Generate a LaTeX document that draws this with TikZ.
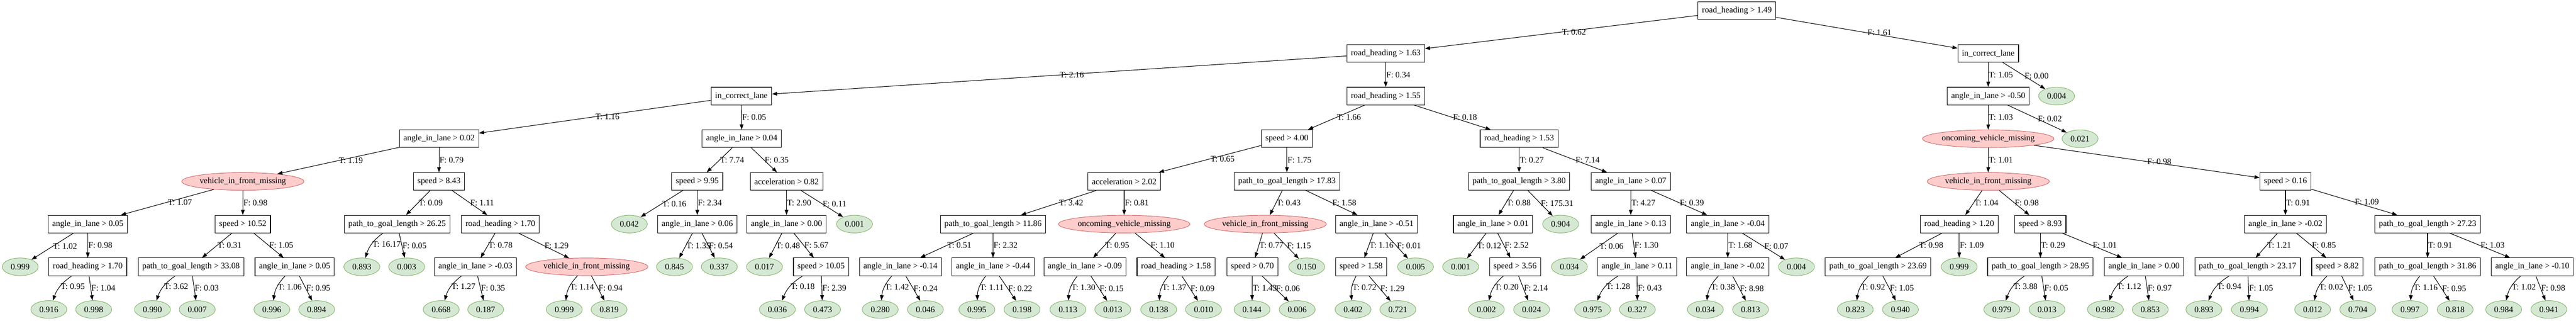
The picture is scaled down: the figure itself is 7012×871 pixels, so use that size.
\documentclass[tikz,border=0pt]{standalone}
\usepackage{fontspec}
\setmainfont{Liberation Serif}
\usetikzlibrary{arrows.meta,shapes.geometric}
\definecolor{catfill}{HTML}{FFCCCC}
\definecolor{catdraw}{HTML}{CC6666}
\definecolor{leaffill}{HTML}{D5E8D4}
\definecolor{leafdraw}{HTML}{82B366}
\tikzset{
    %Define standard arrow tip
    >={Triangle[length=14pt,width=10pt]},
    %Define style for split boxes
    split/.style={
           rectangle,
           draw=black, line width=1.5pt,
           fill=white,
           inner xsep=11pt,
           minimum height=48pt,
           text centered},
    catnode/.style={
           ellipse,
           draw=catdraw, line width=1.3pt,
           fill=catfill,
           inner xsep=0pt, inner ysep=0pt,
           minimum height=48pt,
           text centered},
    leaf/.style={
           ellipse,
           draw=leafdraw, line width=1.3pt,
           fill=leaffill,
           inner sep=0pt,
           minimum width=98pt,
           minimum height=48pt,
           text centered},
    % Define edge label style
    lab/.style={
           anchor=west,
           inner sep=1pt},
    curvy/.style={bend right=18}
}
\begin{document}
\begin{tikzpicture}[->,x=1pt,y=1pt,line width=1.5pt,font=\fontsize{23}{27}\selectfont]
\useasboundingbox (0,0) rectangle (7012,-871);
 %level 0 and 1
\node[split] (root) at (4728,-29) {road\_heading > 1.49};
\node[split] (rh163) at (3772,-145) {road\_heading > 1.63};
\node[split] (icl1) at (5412,-145) {in\_correct\_lane};
 %level 2
\node[split] (icl2) at (2018,-261) {in\_correct\_lane};
\node[split] (rh155) at (3772,-261) {road\_heading > 1.55};
\node[split] (ailm050) at (5412,-261) {angle\_in\_lane > -0.50};
\node[leaf] (l0004a) at (5598,-261) {0.004};
 %level 3
\node[split] (ail002) at (1195,-377) {angle\_in\_lane > 0.02};
\node[split] (ail004) at (2019,-377) {angle\_in\_lane > 0.04};
\node[split] (sp400) at (3503,-377) {speed > 4.00};
\node[split] (rh153) at (4135,-377) {road\_heading > 1.53};
\node[catnode] (ovm1) at (5412,-377) {oncoming\_vehicle\_missing};
\node[leaf] (l0021) at (5662,-377) {0.021};
 %level 4
\node[catnode] (vifm1) at (661,-493) {vehicle\_in\_front\_missing};
\node[split] (sp843) at (1195,-493) {speed > 8.43};
\node[split] (sp995) at (1898,-493) {speed > 9.95};
\node[split] (acc082) at (2141,-493) {acceleration > 0.82};
\node[split] (acc202) at (3060,-493) {acceleration > 2.02};
\node[split] (ptg1783) at (3503,-493) {path\_to\_goal\_length > 17.83};
\node[split] (ptg380) at (4135,-493) {path\_to\_goal\_length > 3.80};
\node[split] (ail007) at (4439,-493) {angle\_in\_lane > 0.07};
\node[catnode] (vifm4) at (5412,-493) {vehicle\_in\_front\_missing};
\node[split] (sp016) at (6221,-493) {speed > 0.16};
 %level 5
\node[split] (ail005a) at (239,-609) {angle\_in\_lane > 0.05};
\node[split] (sp1052) at (661,-609) {speed > 10.52};
\node[split] (ptg2625) at (1081,-609) {path\_to\_goal\_length > 26.25};
\node[split] (rh170a) at (1362,-609) {road\_heading > 1.70};
\node[leaf] (l0042) at (1713,-609) {0.042};
\node[split] (ail006) at (1898,-609) {angle\_in\_lane > 0.06};
\node[split] (ail000a) at (2141,-609) {angle\_in\_lane > 0.00};
\node[leaf] (l0001a) at (2326,-609) {0.001};
\node[split] (ptg1186) at (2703,-609) {path\_to\_goal\_length > 11.86};
\node[catnode] (ovm2) at (3060,-609) {oncoming\_vehicle\_missing};
\node[catnode] (vifm3) at (3444,-609) {vehicle\_in\_front\_missing};
\node[split] (ailm051) at (3747,-609) {angle\_in\_lane > -0.51};
\node[split] (ail001) at (4064,-609) {angle\_in\_lane > 0.01};
\node[leaf] (l0904) at (4248,-609) {0.904};
\node[split] (ail013) at (4439,-609) {angle\_in\_lane > 0.13};
\node[split] (ailm004) at (4703,-609) {angle\_in\_lane > -0.04};
\node[split] (rh120) at (5333,-609) {road\_heading > 1.20};
\node[split] (sp893) at (5554,-609) {speed > 8.93};
\node[split] (ailm002a) at (6221,-609) {angle\_in\_lane > -0.02};
\node[split] (ptg2723) at (6608,-609) {path\_to\_goal\_length > 27.23};
 %level 6
\node[leaf] (l0999a) at (55,-725) {0.999};
\node[split] (rh170b) at (239,-725) {road\_heading > 1.70};
\node[split] (ptg3308) at (520,-725) {path\_to\_goal\_length > 33.08};
\node[split] (ail005b) at (802,-725) {angle\_in\_lane > 0.05};
\node[leaf] (l0893a) at (985,-725) {0.893};
\node[leaf] (l0003) at (1107,-725) {0.003};
\node[split] (ailm003) at (1294,-725) {angle\_in\_lane > -0.03};
\node[catnode] (vifm2) at (1597,-725) {vehicle\_in\_front\_missing};
\node[leaf] (l0845) at (1836,-725) {0.845};
\node[leaf] (l0337) at (1958,-725) {0.337};
\node[leaf] (l0017) at (2081,-725) {0.017};
\node[split] (sp1005) at (2235,-725) {speed > 10.05};
\node[split] (ailm014) at (2451,-725) {angle\_in\_lane > -0.14};
\node[split] (ailm044) at (2703,-725) {angle\_in\_lane > -0.44};
\node[split] (ailm009) at (2953,-725) {angle\_in\_lane > -0.09};
\node[split] (rh158) at (3201,-725) {road\_heading > 1.58};
\node[split] (sp070) at (3409,-725) {speed > 0.70};
\node[leaf] (l0150) at (3557,-725) {0.150};
\node[split] (sp158) at (3705,-725) {speed > 1.58};
\node[leaf] (l0005) at (3853,-725) {0.005};
\node[leaf] (l0001b) at (3976,-725) {0.001};
\node[split] (sp356) at (4124,-725) {speed > 3.56};
\node[leaf] (l0034a) at (4272,-725) {0.034};
\node[split] (ail011) at (4456,-725) {angle\_in\_lane > 0.11};
\node[split] (ailm002b) at (4703,-725) {angle\_in\_lane > -0.02};
\node[leaf] (l0004b) at (4890,-725) {0.004};
\node[split] (ptg2369) at (5112,-725) {path\_to\_goal\_length > 23.69};
\node[leaf] (l0999c) at (5333,-725) {0.999};
\node[split] (ptg2895) at (5554,-725) {path\_to\_goal\_length > 28.95};
\node[split] (ail000b) at (5836,-725) {angle\_in\_lane > 0.00};
\node[split] (ptg2317) at (6118,-725) {path\_to\_goal\_length > 23.17};
\node[split] (sp882) at (6362,-725) {speed > 8.82};
\node[split] (ptg3186) at (6608,-725) {path\_to\_goal\_length > 31.86};
\node[split] (ailm010) at (6893,-725) {angle\_in\_lane > -0.10};
 %level 7
\node[leaf] (l0916) at (133,-841) {0.916};
\node[leaf] (l0998) at (255,-841) {0.998};
\node[leaf] (l0990) at (415,-841) {0.990};
\node[leaf] (l0007) at (537,-841) {0.007};
\node[leaf] (l0996) at (740,-841) {0.996};
\node[leaf] (l0894) at (862,-841) {0.894};
\node[leaf] (l0668) at (1201,-841) {0.668};
\node[leaf] (l0187) at (1322,-841) {0.187};
\node[leaf] (l0999b) at (1536,-841) {0.999};
\node[leaf] (l0819) at (1658,-841) {0.819};
\node[leaf] (l0036) at (2116,-841) {0.036};
\node[leaf] (l0473) at (2239,-841) {0.473};
\node[leaf] (l0280) at (2396,-841) {0.280};
\node[leaf] (l0046) at (2519,-841) {0.046};
\node[leaf] (l0995) at (2659,-841) {0.995};
\node[leaf] (l0198) at (2782,-841) {0.198};
\node[leaf] (l0113) at (2907,-841) {0.113};
\node[leaf] (l0013a) at (3029,-841) {0.013};
\node[leaf] (l0138) at (3154,-841) {0.138};
\node[leaf] (l0010) at (3276,-841) {0.010};
\node[leaf] (l0144) at (3408,-841) {0.144};
\node[leaf] (l0006) at (3531,-841) {0.006};
\node[leaf] (l0402) at (3683,-841) {0.402};
\node[leaf] (l0721) at (3805,-841) {0.721};
\node[leaf] (l0002) at (4046,-841) {0.002};
\node[leaf] (l0024) at (4169,-841) {0.024};
\node[leaf] (l0975) at (4335,-841) {0.975};
\node[leaf] (l0327) at (4457,-841) {0.327};
\node[leaf] (l0034b) at (4642,-841) {0.034};
\node[leaf] (l0813) at (4765,-841) {0.813};
\node[leaf] (l0823) at (5050,-841) {0.823};
\node[leaf] (l0940) at (5173,-841) {0.940};
\node[leaf] (l0979) at (5449,-841) {0.979};
\node[leaf] (l0013b) at (5572,-841) {0.013};
\node[leaf] (l0982) at (5731,-841) {0.982};
\node[leaf] (l0853) at (5853,-841) {0.853};
\node[leaf] (l0893b) at (5999,-841) {0.893};
\node[leaf] (l0994) at (6123,-841) {0.994};
\node[leaf] (l0012) at (6295,-841) {0.012};
\node[leaf] (l0704) at (6418,-841) {0.704};
\node[leaf] (l0997) at (6560,-841) {0.997};
\node[leaf] (l0818) at (6683,-841) {0.818};
\node[leaf] (l0984) at (6815,-841) {0.984};
\node[leaf] (l0941) at (6938,-841) {0.941};

 %edges
 \path[every node/.style={lab}]
    (root) edge node {T: 0.62} (rh163)
        edge node {F: 1.61} (icl1)
    (rh163) edge node {T: 2.16} (icl2)
        edge node {F: 0.34} (rh155)
    (icl1) edge node {T: 1.05} (ailm050)
        edge node {F: 0.00} (l0004a)
    (icl2) edge node {T: 1.16} (ail002)
        edge node {F: 0.05} (ail004)
    (rh155) edge node {T: 1.66} (sp400)
        edge node {F: 0.18} (rh153)
    (ailm050) edge node {T: 1.03} (ovm1)
        edge node {F: 0.02} (l0021)
    (ail002) edge node {T: 1.19} (vifm1)
        edge node {F: 0.79} (sp843)
    (ail004) edge node {T: 7.74} (sp995)
        edge node {F: 0.35} (acc082)
    (sp400) edge node {T: 0.65} (acc202)
        edge node {F: 1.75} (ptg1783)
    (rh153) edge node {T: 0.27} (ptg380)
        edge node {F: 7.14} (ail007)
    (ovm1) edge node {T: 1.01} (vifm4)
        edge node {F: 0.98} (sp016)
    (vifm1) edge node {T: 1.07} (ail005a)
        edge node {F: 0.98} (sp1052)
    (sp843) edge node {T: 0.09} (ptg2625)
        edge node {F: 1.11} (rh170a)
    (sp995) edge node {T: 0.16} (l0042)
        edge node {F: 2.34} (ail006)
    (acc082) edge node {T: 2.90} (ail000a)
        edge node {F: 0.11} (l0001a)
    (acc202) edge node {T: 3.42} (ptg1186)
        edge node {F: 0.81} (ovm2)
    (ptg1783) edge node {T: 0.43} (vifm3)
        edge node {F: 1.58} (ailm051)
    (ptg380) edge node {T: 0.88} (ail001)
        edge node {F: 175.31} (l0904)
    (ail007) edge node {T: 4.27} (ail013)
        edge node {F: 0.39} (ailm004)
    (vifm4) edge node {T: 1.04} (rh120)
        edge node {F: 0.98} (sp893)
    (sp016) edge node {T: 0.91} (ailm002a)
        edge node {F: 1.09} (ptg2723)
    (ail005a) edge node {T: 1.02} (l0999a)
        edge node {F: 0.98} (rh170b)
    (sp1052) edge node {T: 0.31} (ptg3308)
        edge node {F: 1.05} (ail005b)
    (ptg2625) edge[curvy] node {T: 16.17} (l0893a)
        edge node {F: 0.05} (l0003)
    (rh170a) edge node {T: 0.78} (ailm003)
        edge node {F: 1.29} (vifm2)
    (ail006) edge node {T: 1.35} (l0845)
        edge node {F: 0.54} (l0337)
    (ail000a) edge node {T: 0.48} (l0017)
        edge node {F: 5.67} (sp1005)
    (ptg1186) edge node {T: 0.51} (ailm014)
        edge node {F: 2.32} (ailm044)
    (ovm2) edge node {T: 0.95} (ailm009)
        edge node {F: 1.10} (rh158)
    (vifm3) edge node {T: 0.77} (sp070)
        edge node {F: 1.15} (l0150)
    (ailm051) edge node {T: 1.16} (sp158)
        edge node {F: 0.01} (l0005)
    (ail001) edge node {T: 0.12} (l0001b)
        edge node {F: 2.52} (sp356)
    (ail013) edge node {T: 0.06} (l0034a)
        edge node {F: 1.30} (ail011)
    (ailm004) edge node {T: 1.68} (ailm002b)
        edge node {F: 0.07} (l0004b)
    (rh120) edge node {T: 0.98} (ptg2369)
        edge node {F: 1.09} (l0999c)
    (sp893) edge node {T: 0.29} (ptg2895)
        edge node {F: 1.01} (ail000b)
    (ailm002a) edge node {T: 1.21} (ptg2317)
        edge node {F: 0.85} (sp882)
    (ptg2723) edge node {T: 0.91} (ptg3186)
        edge node {F: 1.03} (ailm010);

 \path[every node/.style={lab}]
    (rh170b) edge[curvy] node {T: 0.95} (l0916)
        edge node {F: 1.04} (l0998)
    (ptg3308) edge[curvy] node {T: 3.62} (l0990)
        edge node {F: 0.03} (l0007)
    (ail005b) edge[curvy] node {T: 1.06} (l0996)
        edge node {F: 0.95} (l0894)
    (ailm003) edge[curvy] node {T: 1.27} (l0668)
        edge node {F: 0.35} (l0187)
    (vifm2) edge[curvy] node {T: 1.14} (l0999b)
        edge node {F: 0.94} (l0819)
    (sp1005) edge[curvy] node {T: 0.18} (l0036)
        edge node {F: 2.39} (l0473)
    (ailm014) edge[curvy] node {T: 1.42} (l0280)
        edge node {F: 0.24} (l0046)
    (ailm044) edge[curvy] node {T: 1.11} (l0995)
        edge node {F: 0.22} (l0198)
    (ailm009) edge[curvy] node {T: 1.30} (l0113)
        edge node {F: 0.15} (l0013a)
    (rh158) edge[curvy] node {T: 1.37} (l0138)
        edge node {F: 0.09} (l0010)
    (sp070) edge node {T: 1.43} (l0144)
        edge node {F: 0.06} (l0006)
    (sp158) edge[curvy] node {T: 0.72} (l0402)
        edge node {F: 1.29} (l0721)
    (sp356) edge[curvy] node {T: 0.20} (l0002)
        edge node {F: 2.14} (l0024)
    (ail011) edge[curvy] node {T: 1.28} (l0975)
        edge node {F: 0.43} (l0327)
    (ailm002b) edge[curvy] node {T: 0.38} (l0034b)
        edge node {F: 8.98} (l0813)
    (ptg2369) edge[curvy] node {T: 0.92} (l0823)
        edge node {F: 1.05} (l0940)
    (ptg2895) edge[curvy] node {T: 3.88} (l0979)
        edge node {F: 0.05} (l0013b)
    (ail000b) edge[curvy] node {T: 1.12} (l0982)
        edge node {F: 0.97} (l0853)
    (ptg2317) edge[curvy] node {T: 0.94} (l0893b)
        edge node {F: 1.05} (l0994)
    (sp882) edge[curvy] node {T: 0.02} (l0012)
        edge node {F: 1.05} (l0704)
    (ptg3186) edge[curvy] node {T: 1.16} (l0997)
        edge node {F: 0.95} (l0818)
    (ailm010) edge[curvy] node {T: 1.02} (l0984)
        edge node {F: 0.98} (l0941);

\end{tikzpicture}
\end{document}
